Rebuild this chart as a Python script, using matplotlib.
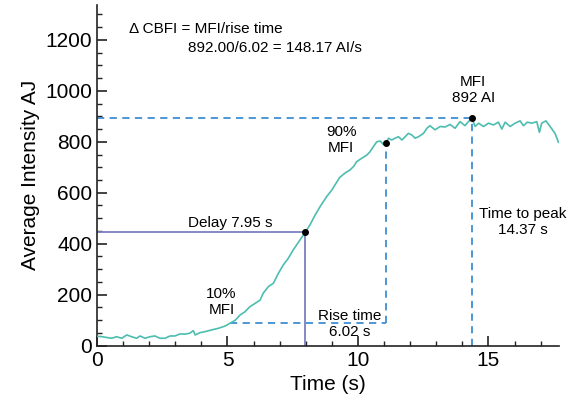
import matplotlib
matplotlib.use("Agg")
import matplotlib.pyplot as plt
from matplotlib.ticker import MultipleLocator

plt.rcParams['font.family'] = ['Liberation Sans', 'DejaVu Sans']

# Time (s) and average intensity
time_s = [0.0, 0.15, 0.31, 0.56, 0.75, 0.95, 1.14, 1.33, 1.52, 1.65, 1.84, 2.03,
          2.22, 2.41, 2.61, 2.8, 2.99, 3.18, 3.37, 3.56, 3.69, 3.76, 3.95, 4.14,
          4.4, 4.65, 4.91, 5.1, 5.3, 5.48, 5.67, 5.86, 6.06, 6.25, 6.37, 6.57,
          6.76, 6.95, 7.14, 7.33, 7.52, 7.78, 7.98, 8.16, 8.36, 8.55, 8.8, 9.0,
          9.12, 9.3, 9.5, 9.7, 9.83, 9.95, 10.14, 10.34, 10.46, 10.59, 10.72, 10.85,
          10.97, 11.06, 11.17, 11.29, 11.42, 11.55, 11.68, 11.81, 11.93, 12.06, 12.19, 12.32,
          12.51, 12.64, 12.76, 12.95, 13.15, 13.34, 13.53, 13.72, 13.91, 14.1, 14.23, 14.37,
          14.49, 14.62, 14.81, 15.0, 15.19, 15.38, 15.51, 15.64, 15.83, 16.02, 16.21, 16.34,
          16.49, 16.66, 16.85, 16.95, 17.04, 17.2, 17.36, 17.55, 17.68]
intensity = [36, 36, 33, 29, 35, 29, 42, 35, 29, 38, 29, 35,
             38, 29, 29, 38, 38, 46, 45, 49, 59, 42, 51, 55,
             62, 68, 77, 88, 100, 120, 133, 153, 166, 179, 206, 232,
             245, 284, 317, 343, 376, 415, 445, 474, 513, 546, 585, 611,
             631, 660, 677, 690, 703, 722, 735, 748, 761, 781, 800, 803,
             790, 794, 814, 807, 814, 820, 807, 820, 833, 827, 814, 820,
             833, 853, 863, 847, 860, 858, 868, 853, 879, 863, 879, 890,
             860, 873, 860, 873, 866, 877, 850, 877, 860, 873, 882, 863,
             877, 873, 879, 837, 873, 882, 860, 833, 798]

mfi = 892
t_delay, y_delay = 7.97, 445
t10, y10 = 5.1, 89
t90, y90 = 11.06, 794
t_peak = 14.37

fig = plt.figure(figsize=(5.76, 4.11), dpi=100)
ax = fig.add_axes([0.1684, 0.159, 0.802, 0.829])

teal = '#4dbdb0'
blue = '#3f8fd2'
purple = '#7b80c0'

ax.plot(time_s, intensity, color=teal, lw=1.2, zorder=3)

dash = (0, (4, 3))
ax.plot([0, t_peak], [mfi, mfi], color=blue, lw=1.3, linestyle=dash)
ax.plot([t_peak, t_peak], [0, mfi], color=blue, lw=1.3, linestyle=dash)
ax.plot([t90, t90], [y10, y90], color=blue, lw=1.3, linestyle=dash)
ax.plot([t10, t90], [y10, y10], color=blue, lw=1.3, linestyle=dash)

ax.plot([0, t_delay], [y_delay, y_delay], color=purple, lw=1.3)
ax.plot([t_delay, t_delay], [0, y_delay], color=purple, lw=1.3)

ax.plot([t_delay, t90, t_peak], [y_delay, y90, mfi], 'o', color='black', ms=4, zorder=4)

fs = 11
ax.text(1.23, 1243, '\u0394 CBFI = MFI/rise time', fontsize=fs, ha='left', va='center')
ax.text(3.5, 1168, '892.00/6.02 = 148.17 AI/s', fontsize=fs, ha='left', va='center')
ax.text(14.42, 1003, 'MFI\n892 AI', fontsize=fs, ha='center', va='center', linespacing=1.2)
ax.text(9.35, 807, '90%\nMFI', fontsize=fs, ha='center', va='center', linespacing=1.2)
ax.text(5.1, 480, 'Delay 7.95 s', fontsize=fs, ha='center', va='center')
ax.text(4.77, 171, '10%\nMFI', fontsize=fs, ha='center', va='center', linespacing=1.2)
ax.text(9.69, 85, 'Rise time\n6.02 s', fontsize=fs, ha='center', va='center', linespacing=1.2)
ax.text(16.3, 485, 'Time to peak\n14.37 s', fontsize=fs, ha='center', va='center', linespacing=1.2)

ax.set_xlim(0, 17.7)
ax.set_ylim(0, 1337)
ax.set_xticks([0, 5, 10, 15])
ax.set_yticks([0, 200, 400, 600, 800, 1000, 1200])
ax.xaxis.set_minor_locator(MultipleLocator(1))
ax.yaxis.set_minor_locator(MultipleLocator(50))
ax.tick_params(which='major', direction='in', length=7, width=1.2, labelsize=15, color='#222222')
ax.tick_params(which='minor', direction='in', length=3.5, width=1.0, color='#222222')
for s in ['top', 'right']:
    ax.spines[s].set_visible(False)
for s in ['left', 'bottom']:
    ax.spines[s].set_linewidth(1.2)
    ax.spines[s].set_color('#222222')

ax.set_xlabel('Time (s)', fontsize=15)
ax.set_ylabel('Average Intensity AJ', fontsize=15)

fig.savefig('out.png', dpi=100)
